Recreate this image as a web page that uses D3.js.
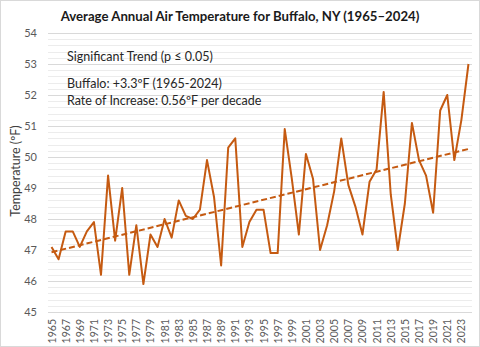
<!DOCTYPE html>
<html>
<head>
<meta charset="utf-8">
<script src="https://cdn.jsdelivr.net/npm/d3@7"></script>
<style>
  html, body { margin: 0; padding: 0; background: #fff; }
  svg { display: block; font-family: Lato, "Open Sans", sans-serif; }
</style>
</head>
<body>
<div id="root"></div>
<script>
// Buffalo, NY annual mean air temperature (°F)
const years = d3.range(1965, 2025)
const temps = [
  47.1, 46.7, 47.6, 47.6, 47.1, 47.6, 47.9, 46.2, 49.4, 47.3,
  49.0, 46.2, 47.8, 45.9, 47.5, 47.1, 48.0, 47.4, 48.6, 48.1,
  48.0, 48.3, 49.9, 48.7, 46.5, 50.3, 50.6, 47.1, 47.9, 48.3,
  48.3, 46.9, 46.9, 50.9, 49.3, 47.5, 50.1, 49.3, 47.0, 47.8,
  48.9, 50.6, 49.1, 48.4, 47.5, 49.2, 49.6, 52.1, 48.8, 47.0,
  48.5, 51.1, 49.9, 49.4, 48.2, 51.5, 52.0, 49.9, 51.2, 53.0
]
const yTicks = [45, 46, 47, 48, 49, 50, 51, 52, 53, 54]
const xTickYears = years.filter((y, i) => i % 2 === 0)
const notes = [
  'Significant Trend (p ≤ 0.05)',
  'Buffalo: +3.3ºF (1965-2024)',
  'Rate of Increase: 0.56ºF per decade'
]

const w = 480, h = 347
const color = '#c55a11'

const svg = d3.select('#root')
  .append('svg')
  .attr('width', w)
  .attr('height', h)

// outer chart frame
svg.append('rect')
  .attr('x', 0.5).attr('y', 0.5)
  .attr('width', w - 1).attr('height', h - 1)
  .attr('fill', '#fff')
  .attr('stroke', '#d9d9d9')

const band = d3.scaleBand().domain(years).range([48, 472])
const x = d => band(d) + band.bandwidth() / 2
const y = d3.scaleLinear().domain([45, 54]).range([312, 33])

// minor gridlines every 0.2 degree, major every degree
const minor = d3.range(45, 54.001, 0.2).filter(v => Math.abs(v - Math.round(v)) > 0.01)
svg.append('g').selectAll('line')
  .data(minor)
  .enter().append('line')
  .attr('x1', 48).attr('x2', 472)
  .attr('y1', d => Math.round(y(d)) + 0.5)
  .attr('y2', d => Math.round(y(d)) + 0.5)
  .attr('stroke', '#ececec')

svg.append('g').selectAll('line')
  .data(yTicks)
  .enter().append('line')
  .attr('x1', 48).attr('x2', 472)
  .attr('y1', d => Math.round(y(d)) + 0.5)
  .attr('y2', d => Math.round(y(d)) + 0.5)
  .attr('stroke', '#d9d9d9')

// y tick labels
svg.append('g').selectAll('text')
  .data(yTicks)
  .enter().append('text')
  .attr('x', 37)
  .attr('y', d => y(d) + 4)
  .attr('text-anchor', 'end')
  .attr('font-size', 11)
  .attr('fill', '#595959')
  .text(d => d)

// x tick labels, rotated
svg.append('g').selectAll('text')
  .data(xTickYears)
  .enter().append('text')
  .attr('transform', d => `translate(${x(d) + 4},319) rotate(-90)`)
  .attr('text-anchor', 'end')
  .attr('font-size', 10.5)
  .attr('fill', '#595959')
  .text(d => d)

// y axis title
svg.append('text')
  .attr('transform', 'translate(20,171) rotate(-90)')
  .attr('text-anchor', 'middle')
  .attr('font-size', 12.5)
  .attr('fill', '#404040')
  .text('Temperature (ºF)')

// chart title
svg.append('text')
  .attr('x', 240)
  .attr('y', 21)
  .attr('text-anchor', 'middle')
  .attr('font-size', 13.2)
  .attr('font-weight', 'bold')
  .attr('fill', '#1a1a1a')
  .text('Average Annual Air Temperature for Buffalo, NY (1965–2024)')

// annotation block
svg.append('g').selectAll('text')
  .data(notes)
  .enter().append('text')
  .attr('x', 67)
  .attr('y', (d, i) => [61, 88, 105][i])
  .attr('font-size', 12.5)
  .attr('fill', '#262626')
  .text(d => d)

// least-squares trend of the series
const n = years.length
const mx = d3.mean(years), my = d3.mean(temps)
const slope = d3.sum(years, (yr, i) => (yr - mx) * (temps[i] - my)) /
  d3.sum(years, yr => (yr - mx) * (yr - mx))
const icpt = my - slope * mx
const ends = [years[0], years[n - 1]]

svg.append('path')
  .datum(ends)
  .attr('fill', 'none')
  .attr('stroke', color)
  .attr('stroke-width', 2)
  .attr('stroke-dasharray', '6,3')
  .attr('d', d3.line().x(d => x(d)).y(d => y(icpt + slope * d)))

// annual series
svg.append('path')
  .datum(temps)
  .attr('fill', 'none')
  .attr('stroke', color)
  .attr('stroke-width', 2)
  .attr('stroke-linejoin', 'round')
  .attr('d', d3.line().x((d, i) => x(years[i])).y(d => y(d)))
</script>
</body>
</html>
